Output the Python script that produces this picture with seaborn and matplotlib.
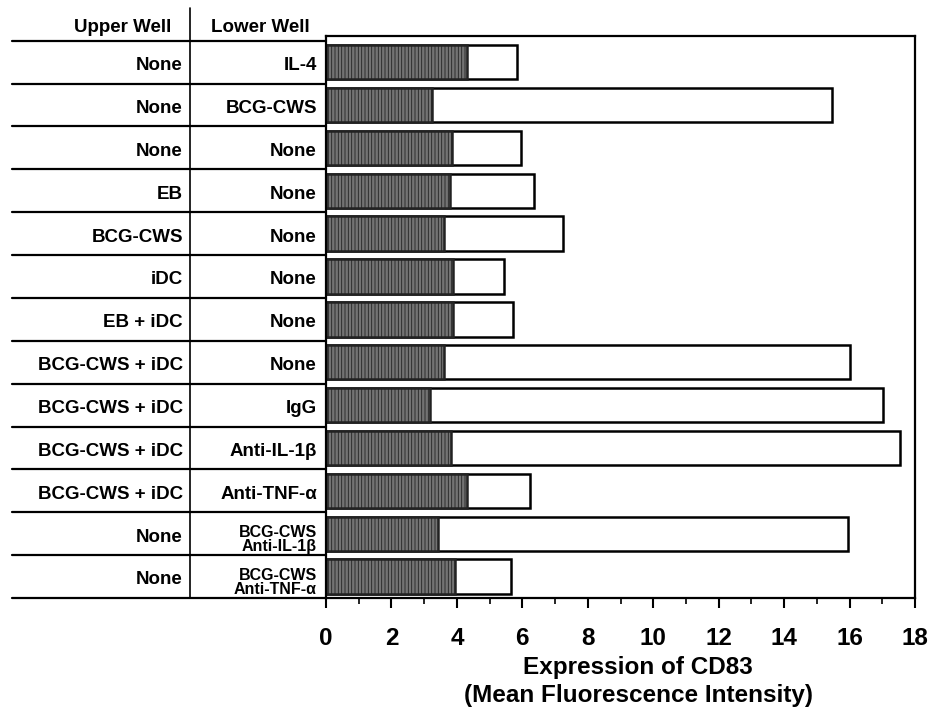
import matplotlib
matplotlib.use("Agg")
import matplotlib.pyplot as plt
from matplotlib.ticker import MultipleLocator
import seaborn as sns
import pandas as pd

# table rows, top to bottom
upper_well = ["None", "None", "None", "EB", "BCG-CWS", "iDC", "EB + iDC",
              "BCG-CWS + iDC", "BCG-CWS + iDC", "BCG-CWS + iDC", "BCG-CWS + iDC",
              "None", "None"]
lower_well = ["IL-4", "BCG-CWS", "None", "None", "None", "None", "None",
              "None", "IgG", "Anti-IL-1β", "Anti-TNF-α",
              "BCG-CWS\nAnti-IL-1β", "BCG-CWS\nAnti-TNF-α"]
# mean fluorescence intensity: open bar = CD83 staining, shaded bar = isotype control
mfi_cd83 = [5.83, 15.45, 5.97, 6.36, 7.25, 5.45, 5.72, 16.02, 17.03, 17.55, 6.24, 15.95, 5.66]
mfi_control = [4.31, 3.24, 3.86, 3.80, 3.62, 3.88, 3.88, 3.62, 3.19, 3.82, 4.31, 3.43, 3.95]

df = pd.DataFrame({"upper": upper_well, "lower": lower_well,
                   "cd83": mfi_cd83, "control": mfi_control})
df["row"] = df["upper"] + " | " + df["lower"]

sns.set_style("white")
plt.rcParams["font.family"] = ["Liberation Sans", "DejaVu Sans"]
plt.rcParams["font.weight"] = "bold"
plt.rcParams["text.color"] = "black"
plt.rcParams["axes.labelcolor"] = "black"
plt.rcParams["xtick.color"] = "black"
plt.rcParams["hatch.linewidth"] = 0.6

fig = plt.figure(figsize=(9.36, 7.16), dpi=100, facecolor="white")
ax = fig.add_axes([0.3483, 0.1648, 0.6293, 0.7849])

sns.barplot(data=df, x="cd83", y="row", orient="h", color="white", saturation=1,
            edgecolor="black", linewidth=1.8, width=0.8, ax=ax)
n_open = len(ax.patches)
sns.barplot(data=df, x="control", y="row", orient="h", color="#737373", saturation=1,
            edgecolor="#222222", linewidth=1.8, width=0.8, ax=ax)
for p in ax.patches[n_open:]:
    p.set_hatch("|||||")

n = len(df)
ax.set_xlim(0, 18)
ax.set_ylim(n - 0.5, -0.61)
ax.set_yticks([])
ax.set_ylabel("")
ax.xaxis.set_major_locator(MultipleLocator(2))
ax.xaxis.set_minor_locator(MultipleLocator(1))
ax.tick_params(axis="x", which="major", direction="out", length=7, width=1.5,
               labelsize=17.5, pad=14, bottom=True, colors="black")
ax.tick_params(axis="x", which="minor", direction="out", length=4, width=1.2,
               bottom=True, colors="black")
for lab in ax.get_xticklabels():
    lab.set_fontweight("bold")
for s in ax.spines.values():
    s.set_visible(True)
    s.set_linewidth(1.6)
    s.set_color("black")

ax.set_xlabel("Expression of CD83\n(Mean Fluorescence Intensity)",
              fontsize=17.5, fontweight="bold", linespacing=1.3, color="black")
ax.xaxis.set_label_coords(0.53, -0.103)

# left-hand table, x in axes fraction, y in data units
tr = ax.get_yaxis_transform()
x_left, x_sep = -0.533, -0.2309
for i in range(n + 1):
    ax.plot([x_left, 0], [i - 0.5, i - 0.5], color="black", lw=1.6,
            transform=tr, clip_on=False)
ax.plot([x_sep, x_sep], [-1.26, n - 0.5], color="black", lw=1.2,
        transform=tr, clip_on=False)
ax.text(-0.345, -0.82, "Upper Well", transform=tr, ha="center", va="center",
        fontsize=13.5, fontweight="bold")
ax.text(-0.112, -0.82, "Lower Well", transform=tr, ha="center", va="center",
        fontsize=13.5, fontweight="bold")
for i, (up, low) in enumerate(zip(upper_well, lower_well)):
    ax.text(-0.2428, i + 0.08, up, transform=tr, ha="right", va="center",
            fontsize=13.5, fontweight="bold")
    if "\n" in low:
        ax.text(-0.0153, i + 0.14, low, transform=tr, ha="right", va="center",
                fontsize=11.5, fontweight="bold", linespacing=0.95)
    else:
        ax.text(-0.0153, i + 0.08, low, transform=tr, ha="right", va="center",
                fontsize=13.5, fontweight="bold")

fig.savefig("out.png", dpi=100, facecolor="white")
